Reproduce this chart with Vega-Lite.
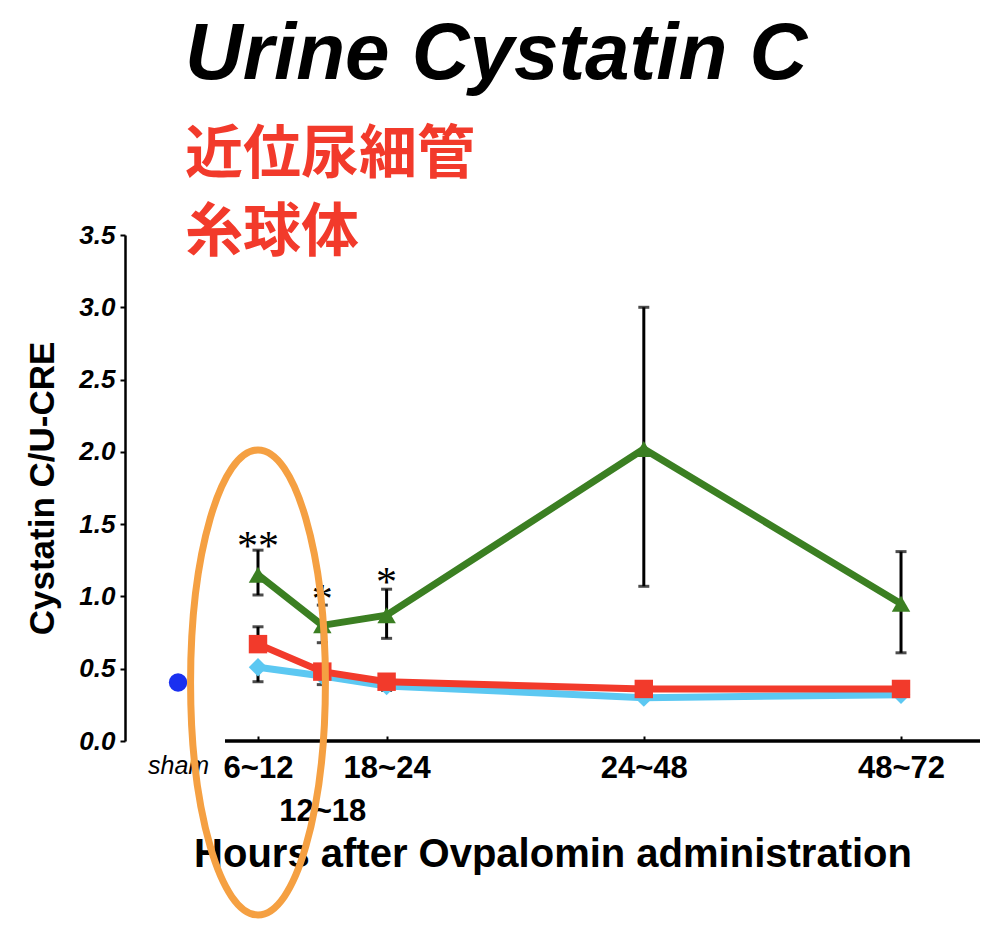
{
  "$schema": "https://vega.github.io/schema/vega-lite/v6.json",
  "width": 855,
  "height": 506,
  "autosize": {"type": "none"},
  "padding": {"left": 125, "top": 235, "right": 20, "bottom": 196},
  "background": "white",
  "config": {"view": {"stroke": null}, "font": "Liberation Sans"},
  "title": {
    "text": "Urine Cystatin C",
    "subtitle": ["近位尿細管", "糸球体"],
    "anchor": "start",
    "frame": "group",
    "dx": 60,
    "offset": -42,
    "font": "Liberation Sans",
    "fontSize": 80,
    "fontWeight": "bold",
    "fontStyle": "italic",
    "color": "black",
    "subtitleFont": "Noto Sans CJK JP",
    "subtitleFontSize": 58,
    "subtitleFontWeight": "bold",
    "subtitleColor": "#f23a2b",
    "subtitleLineHeight": 78,
    "subtitlePadding": 31
  },
  "datasets": {
    "pts": [
      {"series": "glomerulus", "h": 12, "v": 0.51, "lo": 0.41, "hi": 0.51},
      {"series": "glomerulus", "h": 18, "v": 0.45, "lo": 0.39, "hi": 0.45},
      {"series": "glomerulus", "h": 24, "v": 0.38, "lo": 0.35, "hi": 0.38},
      {"series": "glomerulus", "h": 48, "v": 0.30},
      {"series": "glomerulus", "h": 72, "v": 0.32},
      {"series": "proximal", "h": 12, "v": 0.67, "lo": 0.67, "hi": 0.79},
      {"series": "proximal", "h": 18, "v": 0.48},
      {"series": "proximal", "h": 24, "v": 0.41},
      {"series": "proximal", "h": 48, "v": 0.36},
      {"series": "proximal", "h": 72, "v": 0.36},
      {"series": "cystatin", "h": 12, "v": 1.15, "lo": 1.01, "hi": 1.32},
      {"series": "cystatin", "h": 18, "v": 0.80, "lo": 0.68, "hi": 0.94},
      {"series": "cystatin", "h": 24, "v": 0.87, "lo": 0.71, "hi": 1.05},
      {"series": "cystatin", "h": 48, "v": 2.02, "lo": 1.07, "hi": 3.0},
      {"series": "cystatin", "h": 72, "v": 0.95, "lo": 0.61, "hi": 1.31},
      {"series": "sham", "h": 4.54, "v": 0.405}
    ],
    "stars": [
      {"h": 12, "v": 1.343, "t": "**"},
      {"h": 18, "v": 0.975, "t": "*"},
      {"h": 24, "v": 1.093, "t": "*"}
    ],
    "highlight": [{"h": 12, "v": 0.405}]
  },
  "layer": [
    {
      "data": {"name": "pts"},
      "transform": [{"filter": "isValid(datum.lo)"}],
      "mark": {"type": "errorbar", "color": "black", "thickness": 3, "size": 11, "ticks": true},
      "encoding": {
        "x": {
          "field": "h", "type": "quantitative",
          "scale": {"domain": [-0.41, 79.37], "nice": false, "zero": false},
          "axis": {
            "title": "Hours after Ovpalomin administration",
            "values": [4.54, 12, 18, 24, 48, 72],
            "labelExpr": "datum.value < 6 ? 'sham' : datum.value == 12 ? '6~12' : datum.value == 18 ? ['', '12~18'] : datum.value == 24 ? '18~24' : datum.value == 48 ? '24~48' : '48~72'",
            "domain": false,
            "grid": false,
            "ticks": true,
            "tickSize": -5,
            "tickWidth": 2,
            "tickColor": "black",
            "tickOpacity": {"condition": {"test": "datum.value < 6", "value": 0}, "value": 1},
            "labelFont": "Liberation Sans",
            "labelFontSize": {"condition": {"test": "datum.value < 6", "value": 25}, "value": 31},
            "labelFontWeight": {"condition": {"test": "datum.value < 6", "value": "normal"}, "value": "bold"},
            "labelFontStyle": {"condition": {"test": "datum.value < 6", "value": "italic"}, "value": "normal"},
            "labelColor": "black",
            "labelPadding": 17,
            "labelLineHeight": 43,
            "labelOverlap": false,
            "labelBound": false,
            "labelFlush": false,
            "titleFont": "Liberation Sans",
            "titleFontSize": 40,
            "titleFontWeight": "bold",
            "titleColor": "black",
            "titlePadding": 8
          }
        },
        "y": {
          "field": "lo", "type": "quantitative",
          "scale": {"domain": [0, 3.5], "nice": false, "zero": false},
          "axis": {
            "title": "Cystatin C/U-CRE",
            "values": [0, 0.5, 1, 1.5, 2, 2.5, 3, 3.5],
            "format": ".1f",
            "grid": false,
            "domain": true,
            "domainColor": "black",
            "domainWidth": 2.5,
            "ticks": true,
            "tickSize": 5,
            "tickWidth": 2,
            "tickColor": "black",
            "labelFont": "Liberation Sans",
            "labelFontSize": 26,
            "labelFontWeight": "bold",
            "labelFontStyle": "italic",
            "labelColor": "black",
            "labelPadding": 5,
            "titleFont": "Liberation Sans",
            "titleFontSize": 35,
            "titleFontWeight": "bold",
            "titleColor": "black",
            "titlePadding": 18
          }
        },
        "y2": {"field": "hi"}
      }
    },
    {
      "data": {"values": [{}]},
      "mark": {"type": "rule", "color": "black", "strokeWidth": 3.5},
      "encoding": {
        "x": {"datum": 8.92, "type": "quantitative"},
        "x2": {"datum": 79.37},
        "y": {"datum": 0, "type": "quantitative"}
      }
    },
    {
      "data": {"name": "pts"},
      "transform": [{"filter": "datum.series != 'sham'"}],
      "mark": {"type": "line", "strokeWidth": 7},
      "encoding": {
        "x": {"field": "h", "type": "quantitative"},
        "y": {"field": "v", "type": "quantitative"},
        "color": {
          "field": "series", "type": "nominal", "legend": null,
          "scale": {"domain": ["glomerulus", "proximal", "cystatin", "sham"], "range": ["#5cc8f2", "#f23a2b", "#3b7f22", "#1a30f0"]}
        }
      }
    },
    {
      "data": {"name": "pts"},
      "mark": {"type": "point", "filled": true, "opacity": 1, "size": 340},
      "encoding": {
        "x": {"field": "h", "type": "quantitative"},
        "y": {"field": "v", "type": "quantitative"},
        "color": {"field": "series", "type": "nominal", "legend": null},
        "shape": {
          "field": "series", "type": "nominal", "legend": null,
          "scale": {"domain": ["glomerulus", "proximal", "cystatin", "sham"], "range": ["diamond", "square", "triangle-up", "circle"]}
        }
      }
    },
    {
      "data": {"name": "stars"},
      "mark": {"type": "text", "font": "Liberation Serif", "fontSize": 42, "baseline": "middle", "align": "center", "color": "black"},
      "encoding": {
        "x": {"field": "h", "type": "quantitative"},
        "y": {"field": "v", "type": "quantitative"},
        "text": {"field": "t"}
      }
    },
    {
      "data": {"name": "highlight"},
      "mark": {
        "type": "point",
        "filled": false,
        "color": "#f5a042",
        "strokeWidth": 7,
        "opacity": 1,
        "size": 216225,
        "shape": "M0,-1 C0.16,-1 0.29,-0.552 0.29,0 C0.29,0.552 0.16,1 0,1 C-0.16,1 -0.29,0.552 -0.29,0 C-0.29,-0.552 -0.16,-1 0,-1 Z"
      },
      "encoding": {
        "x": {"field": "h", "type": "quantitative"},
        "y": {"field": "v", "type": "quantitative"}
      }
    }
  ]
}
